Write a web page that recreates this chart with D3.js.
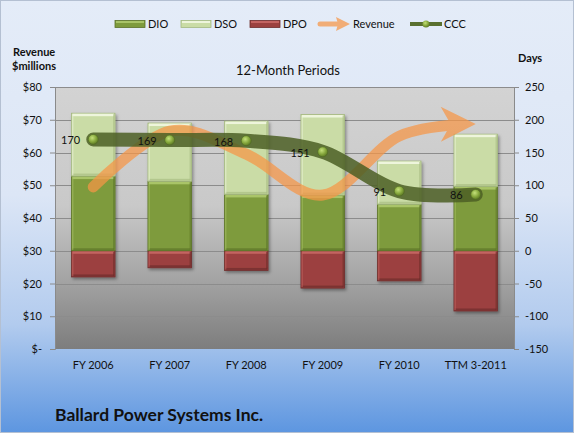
<!DOCTYPE html>
<html><head><meta charset="utf-8">
<script src="https://cdn.jsdelivr.net/npm/d3@7/dist/d3.min.js"></script>
<style>
html,body{margin:0;padding:0;background:#fff;}
svg{display:block;font-family:Lato,"Open Sans",sans-serif;}
</style></head><body>
<svg id="c" width="574" height="433"></svg>
<script>
// ---- data ----
const categories = ["FY 2006","FY 2007","FY 2008","FY 2009","FY 2010","TTM 3-2011"];
const dio = [114,106,86,85,71,98];
const dso = [96,89,112,123,66,80];
const dpo = [-40,-26,-30,-57,-46,-92];
const ccc = [170,169,168,151,91,86];
const revenue = [49.5,66.5,59.5,47,65,68.7];
const leftTicks = [0,10,20,30,40,50,60,70,80];
const rightTicks = [-150,-100,-50,0,50,100,150,200,250];
const legendNames = ["DIO","DSO","DPO","Revenue","CCC"];

// ---- layout ----
const W = 574, H = 433;
const P = {l:55, r:514, t:87, b:349};
const svg = d3.select("#c");
const defs = svg.append("defs");

function lg(id, stops){
  const g = defs.append("linearGradient").attr("id",id).attr("x1",0).attr("y1",0).attr("x2",0).attr("y2",1);
  stops.forEach(s=>g.append("stop").attr("offset",s[0]).attr("stop-color",s[1]));
}
lg("bgGrad",[[0,"#e4ecf8"],[0.45,"#dce6f6"],[0.75,"#b2cbee"],[1,"#5d96e0"]]);
lg("plotGrad",[[0,"#d3d3d3"],[0.45,"#c9c9c9"],[0.72,"#a6a6a6"],[1,"#7d7d7d"]]);
const rg = defs.append("radialGradient").attr("id","dotGrad").attr("cx","40%").attr("cy","35%").attr("r","65%");
rg.append("stop").attr("offset",0).attr("stop-color","#c4e07a");
rg.append("stop").attr("offset",0.6).attr("stop-color","#86a83c");
rg.append("stop").attr("offset",1).attr("stop-color","#5e7a26");
const sh = defs.append("filter").attr("id","shadow").attr("x","-20%").attr("y","-20%").attr("width","150%").attr("height","150%");
sh.append("feDropShadow").attr("dx",1.5).attr("dy",2).attr("stdDeviation",1.5).attr("flood-color","#000").attr("flood-opacity",0.35);
defs.append("marker").attr("id","arrow").attr("markerUnits","userSpaceOnUse")
  .attr("viewBox","-36 -19 38 38").attr("markerWidth",38).attr("markerHeight",38)
  .attr("refX",0).attr("refY",0).attr("orient","auto")
  .append("path").attr("d","M0,0 L-35,-17.5 L-25,0 L-35,17.5 Z").attr("fill","#f79646");

// backgrounds
svg.append("rect").attr("x",0.5).attr("y",0.5).attr("width",W-1).attr("height",H-1)
  .attr("fill","url(#bgGrad)").attr("stroke","#b4c0d2");
svg.append("rect").attr("x",P.l).attr("y",P.t).attr("width",P.r-P.l).attr("height",P.b-P.t).attr("fill","url(#plotGrad)");

// scales
const x = d3.scaleBand().domain(categories).range([P.l,P.r]).paddingInner(0.43).paddingOuter(0.215);
const yL = d3.scaleLinear().domain([0,80]).range([P.b,P.t]);
const yR = d3.scaleLinear().domain([-150,250]).range([P.b,P.t]);
const cx = c => x(c) + x.bandwidth()/2;

// gridlines
svg.append("g").selectAll("line").data(leftTicks.filter(t=>t>0)).join("line")
  .attr("x1",P.l).attr("x2",P.r).attr("y1",d=>Math.round(yL(d))+0.5).attr("y2",d=>Math.round(yL(d))+0.5)
  .attr("stroke","#8c8c8c").attr("stroke-width",1);

// axes
const axL = svg.append("g").attr("transform",`translate(${P.l},0)`)
  .call(d3.axisLeft(yL).tickValues(leftTicks).tickSize(5).tickPadding(8).tickFormat(d=>d===0?"$-":"$"+d));
const axR = svg.append("g").attr("transform",`translate(${P.r},0)`)
  .call(d3.axisRight(yR).tickValues(rightTicks).tickSize(5).tickPadding(6).tickFormat(d=>String(d)));
const axB = svg.append("g").attr("transform",`translate(0,${P.b})`)
  .call(d3.axisBottom(x).tickSize(0).tickPadding(12));
[axL,axR,axB].forEach(a=>{
  a.selectAll("path.domain").attr("stroke","#8a8a8a");
  a.selectAll(".tick line").attr("stroke","#8a8a8a");
  a.selectAll("text").attr("font-family","Lato, 'Open Sans', sans-serif").attr("font-size",11).attr("fill","#111");
});
axB.select("path.domain").attr("stroke","none");

// bars
const segColors = {
  DIO:{fill:"#7e9b3d", hi:"#a9c468", lo:"#5d7628", edge:"#5a7227"},
  DSO:{fill:"#cadca6", hi:"#eef5dc", lo:"#a9bd83", edge:"#a4b880"},
  DPO:{fill:"#9c4140", hi:"#c46462", lo:"#6e2c2b", edge:"#6e2d2c"}
};
const barsG = svg.append("g");
function seg(g, xx, y0, y1, c){
  const top = Math.min(y0,y1), h = Math.abs(y1-y0), w = x.bandwidth();
  g.append("rect").attr("x",xx).attr("y",top).attr("width",w).attr("height",h)
    .attr("fill",c.fill).attr("stroke",c.edge).attr("stroke-width",0.8);
  g.append("rect").attr("x",xx+1).attr("y",top+0.5).attr("width",w-2).attr("height",2.5).attr("fill",c.hi);
  g.append("rect").attr("x",xx+1).attr("y",top+h-2.5).attr("width",w-2).attr("height",2).attr("fill",c.lo).attr("opacity",0.7);
  g.append("rect").attr("x",xx+0.5).attr("y",top+1).attr("width",1.5).attr("height",h-2).attr("fill",c.hi).attr("opacity",0.5);
  g.append("rect").attr("x",xx+w-2).attr("y",top+1).attr("width",1.5).attr("height",h-2).attr("fill",c.lo).attr("opacity",0.6);
}
categories.forEach((c,i)=>{
  const g = barsG.append("g").attr("filter","url(#shadow)");
  const xx = x(c);
  seg(g, xx, yR(0), yR(dpo[i]), segColors.DPO);
  seg(g, xx, yR(0), yR(dio[i]), segColors.DIO);
  seg(g, xx, yR(dio[i]), yR(dio[i]+dso[i]), segColors.DSO);
});

// revenue arrow line
const revLine = d3.line().x((d,i)=>cx(categories[i])).y(d=>yL(d)).curve(d3.curveCardinal.tension(0));
const revG = svg.append("g").attr("opacity",0.72);
const revPath = revG.append("path").attr("d",revLine(revenue)).attr("fill","none")
  .attr("stroke","#f79646").attr("stroke-width",11).attr("stroke-linecap","round")
  .attr("marker-end","url(#arrow)");
const L = revPath.node().getTotalLength();
revPath.attr("stroke-dasharray",`${L-20} ${L+20}`);

// CCC line
const cccLine = d3.line().x((d,i)=>cx(categories[i])).y(d=>yR(d)).curve(d3.curveCardinal.tension(0));
svg.append("path").attr("d",cccLine(ccc)).attr("fill","none").attr("stroke","#4c5f25")
  .attr("stroke-width",14).attr("stroke-linecap","round").attr("opacity",0.85);
svg.append("g").selectAll("circle").data(ccc).join("circle")
  .attr("cx",(d,i)=>cx(categories[i])).attr("cy",d=>yR(d)).attr("r",5)
  .attr("fill","url(#dotGrad)").attr("stroke","#4f6a22").attr("stroke-width",0.6);
svg.append("g").selectAll("text").data(ccc).join("text")
  .attr("x",(d,i)=>cx(categories[i])-13).attr("y",d=>yR(d)+5)
  .attr("text-anchor","end").attr("font-size",11).attr("fill","#111").text(d=>d);

// titles
svg.append("text").attr("x",288).attr("y",75).attr("text-anchor","middle").attr("font-size",13).attr("fill","#111").text("12-Month Periods");
svg.append("text").attr("x",13).attr("y",56).attr("font-size",11).attr("font-weight","bold").attr("fill","#111").text("Revenue");
svg.append("text").attr("x",12).attr("y",70).attr("font-size",11).attr("font-weight","bold").attr("fill","#111").text("$millions");
svg.append("text").attr("x",518).attr("y",62).attr("font-size",11).attr("font-weight","bold").attr("fill","#111").text("Days");
svg.append("text").attr("x",55).attr("y",421).attr("font-size",17.5).attr("font-weight","bold").attr("fill","#111").text("Ballard Power Systems Inc.");

// legend
const lgX = {DIO:115, DSO:181, DPO:250, Revenue:318, CCC:410};
const leg = svg.append("g");
["DIO","DSO","DPO"].forEach(k=>{
  const c = segColors[k];
  leg.append("rect").attr("x",lgX[k]).attr("y",20.5).attr("width",30).attr("height",7)
    .attr("fill",c.fill).attr("stroke",c.edge).attr("stroke-width",0.8);
  leg.append("rect").attr("x",lgX[k]+1).attr("y",21).attr("width",28).attr("height",2).attr("fill",c.hi);
});
const la = leg.append("g").attr("opacity",0.72);
la.append("line").attr("x1",lgX.Revenue+2).attr("x2",lgX.Revenue+20).attr("y1",24).attr("y2",24)
  .attr("stroke","#f79646").attr("stroke-width",5).attr("stroke-linecap","round");
la.append("path").attr("d",`M${lgX.Revenue+32},24 L${lgX.Revenue+18},17 L${lgX.Revenue+20},24 L${lgX.Revenue+18},31 Z`).attr("fill","#f79646");
leg.append("line").attr("x1",lgX.CCC).attr("x2",lgX.CCC+32).attr("y1",24).attr("y2",24)
  .attr("stroke","#5a7030").attr("stroke-width",4);
leg.append("circle").attr("cx",lgX.CCC+16).attr("cy",24).attr("r",3.5).attr("fill","url(#dotGrad)");
leg.selectAll("text.lt").data(legendNames).join("text").attr("class","lt")
  .attr("x",d=>lgX[d]+ (d==="Revenue"?35:d==="CCC"?34:33)).attr("y",28)
  .attr("font-size",11).attr("fill","#111").text(d=>d);
</script>
</body></html>
